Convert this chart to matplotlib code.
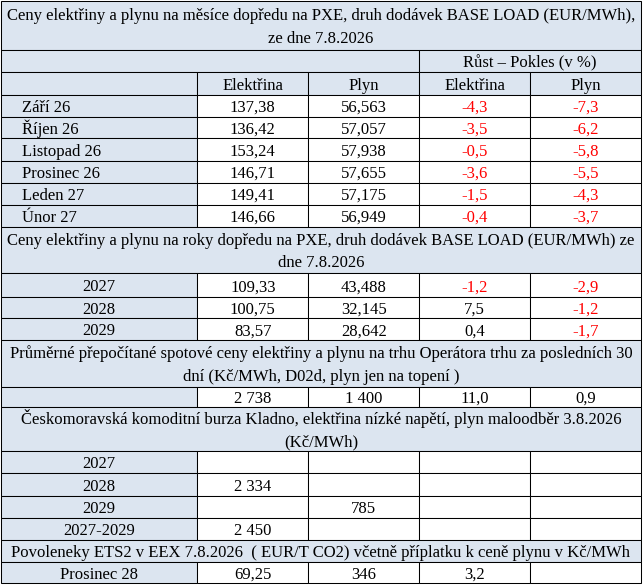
import matplotlib
matplotlib.use('Agg')
import matplotlib.pyplot as plt
from matplotlib.patches import Rectangle

plt.rcParams['font.family'] = ['Liberation Serif', 'DejaVu Serif']

BG = '#dce5f0'
RED = '#ff0000'
FS = 12

# --- data ---
title1 = 'Ceny elektřiny a plynu na měsíce dopředu na PXE, druh dodávek BASE LOAD (EUR/MWh),\nze dne 7.8.2026'
title2 = 'Ceny elektřiny a plynu na roky dopředu na PXE, druh dodávek BASE LOAD (EUR/MWh) ze\ndne 7.8.2026'
title3 = 'Průměrné přepočítané spotové ceny elektřiny a plynu na trhu Operátora trhu za posledních 30\ndní (Kč/MWh, D02d, plyn jen na topení )'
title4 = 'Českomoravská komoditní burza Kladno, elektřina nízké napětí, plyn maloodběr 3.8.2026\n(Kč/MWh)'
title5 = 'Povoleneky ETS2 v EEX 7.8.2026  ( EUR/T CO2) včetně příplatku k ceně plynu v Kč/MWh'
change_hdr = 'Růst – Pokles (v %)'
col_hdr = ['Elektřina', 'Plyn', 'Elektřina', 'Plyn']

months = ['Září 26', 'Říjen 26', 'Listopad 26', 'Prosinec 26', 'Leden 27', 'Únor 27']
m_elek = ['137,38', '136,42', '153,24', '146,71', '149,41', '146,66']
m_plyn = ['56,563', '57,057', '57,938', '57,655', '57,175', '56,949']
m_elek_chg = ['-4,3', '-3,5', '-0,5', '-3,6', '-1,5', '-0,4']
m_plyn_chg = ['-7,3', '-6,2', '-5,8', '-5,5', '-4,3', '-3,7']

years = ['2027', '2028', '2029']
y_elek = ['109,33', '100,75', '83,57']
y_plyn = ['43,488', '32,145', '28,642']
y_elek_chg = ['-1,2', '7,5', '0,4']
y_plyn_chg = ['-2,9', '-1,2', '-1,7']

spot = ['2 738', '1 400', '11,0', '0,9']

kladno_rows = ['2027', '2028', '2029', '2027-2029']
kladno_elek = ['', '2 334', '', '2 450']
kladno_plyn = ['', '', '785', '']

ets_row = 'Prosinec 28'
ets_vals = ['69,25', '346', '3,2', '']

# --- layout (pixels) ---
W, H = 643, 585
cols = [1, 197.3, 308.3, 419.3, 530.3, 640.7]
rows = [1, 50, 72, 94.7, 116.7, 138.3, 160.7, 182.7, 204.5, 226.7,
        273.3, 296.7, 318.3, 340, 386.7, 406.7, 451, 473.3, 495.7,
        517.7, 540, 561.7, 583.3]

fig = plt.figure(figsize=(W / 100, H / 100), dpi=100)
ax = fig.add_axes([0, 0, 1, 1])
ax.set_xlim(0, W)
ax.set_ylim(H, 0)
ax.axis('off')


def cell(c0, c1, r0, r1, text='', bg='white', align='center', color='black'):
    x0, x1 = cols[c0], cols[c1]
    y0, y1 = rows[r0], rows[r1]
    ax.add_patch(Rectangle((x0, y0), x1 - x0, y1 - y0, facecolor=bg,
                           edgecolor='black', lw=0.75))
    if not text:
        return
    if align == 'left':
        tx, ha = x0 + 20.5, 'left'
    else:
        tx, ha = (x0 + x1) / 2, 'center'
    lines = text.split('\n')
    mid = (y0 + y1) / 2
    if len(lines) == 1:
        base = [mid + 6.2]
    else:
        base = [mid - 5, mid + 17.3]
    for ln, b in zip(lines, base):
        ax.text(tx, b, ln, ha=ha, va='baseline', fontsize=FS, color=color)


def val_color(v):
    return RED if v.startswith('-') else 'black'


# section 1
cell(0, 5, 0, 1, title1, BG)
cell(0, 3, 1, 2, '', BG)
cell(3, 5, 1, 2, change_hdr, BG)
cell(0, 1, 2, 3, '', BG)
for i, h in enumerate(col_hdr):
    cell(i + 1, i + 2, 2, 3, h, BG)
for r, m in enumerate(months):
    rr = 3 + r
    cell(0, 1, rr, rr + 1, m, BG, align='left')
    vals = [m_elek[r], m_plyn[r], m_elek_chg[r], m_plyn_chg[r]]
    for c, v in enumerate(vals):
        cell(c + 1, c + 2, rr, rr + 1, v, color=val_color(v))

# section 2
cell(0, 5, 9, 10, title2, BG)
for r, y in enumerate(years):
    rr = 10 + r
    cell(0, 1, rr, rr + 1, y, BG)
    vals = [y_elek[r], y_plyn[r], y_elek_chg[r], y_plyn_chg[r]]
    for c, v in enumerate(vals):
        cell(c + 1, c + 2, rr, rr + 1, v, color=val_color(v))

# section 3
cell(0, 5, 13, 14, title3, BG)
cell(0, 1, 14, 15, '', BG)
for c, v in enumerate(spot):
    cell(c + 1, c + 2, 14, 15, v, color=val_color(v))

# section 4
cell(0, 5, 15, 16, title4, BG)
for r, y in enumerate(kladno_rows):
    rr = 16 + r
    cell(0, 1, rr, rr + 1, y, BG)
    vals = [kladno_elek[r], kladno_plyn[r], '', '']
    for c, v in enumerate(vals):
        cell(c + 1, c + 2, rr, rr + 1, v)

# section 5
cell(0, 5, 20, 21, title5, BG)
cell(0, 1, 21, 22, ets_row, BG)
for c, v in enumerate(ets_vals):
    cell(c + 1, c + 2, 21, 22, v, color=val_color(v))

fig.savefig('out.png', dpi=100)
